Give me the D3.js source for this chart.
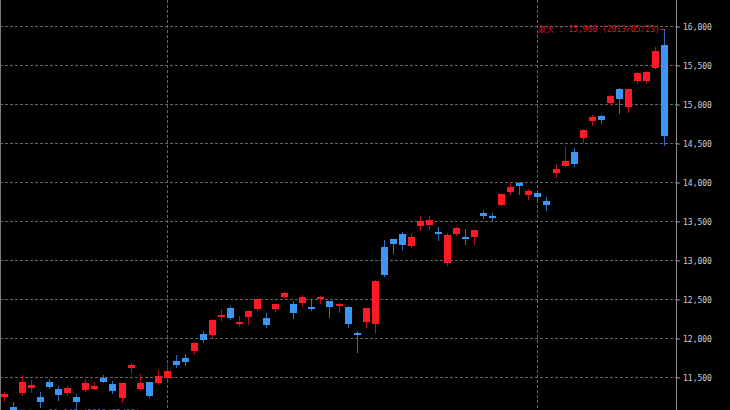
<!DOCTYPE html>
<html>
<head>
<meta charset="utf-8">
<script src="https://cdn.jsdelivr.net/npm/d3@7"></script>
<style>
html, body { margin: 0; padding: 0; background: #000; }
svg { display: block; }
</style>
</head>
<body>
<div id="chart"></div>
<script>
//////// DATA ////////
var dates = [
    "2013/02/04","2013/02/05","2013/02/06","2013/02/07","2013/02/08","2013/02/12","2013/02/13","2013/02/14","2013/02/15",
    "2013/02/18","2013/02/19","2013/02/20","2013/02/21","2013/02/22","2013/02/25","2013/02/26","2013/02/27","2013/02/28",
    "2013/03/01","2013/03/04","2013/03/05","2013/03/06","2013/03/07","2013/03/08","2013/03/11","2013/03/12","2013/03/13",
    "2013/03/14","2013/03/15","2013/03/18","2013/03/19","2013/03/21","2013/03/22","2013/03/25","2013/03/26","2013/03/27",
    "2013/03/28","2013/03/29","2013/04/01","2013/04/02","2013/04/03","2013/04/04","2013/04/05","2013/04/08","2013/04/09",
    "2013/04/10","2013/04/11","2013/04/12","2013/04/15","2013/04/16","2013/04/17","2013/04/18","2013/04/19","2013/04/22",
    "2013/04/23","2013/04/24","2013/04/25","2013/04/26","2013/04/30","2013/05/01","2013/05/02","2013/05/07","2013/05/08",
    "2013/05/09","2013/05/10","2013/05/13","2013/05/14","2013/05/15","2013/05/16","2013/05/17","2013/05/20","2013/05/21",
    "2013/05/22","2013/05/23"
];

var opens = [
    11240, 11110, 11290, 11360, 11250, 11430, 11340, 11300, 11250, 11330, 11350, 11490, 11410, 11230, 11610, 11350, 11430, 11420,
    11490, 11700, 11750, 11830, 12050, 12040, 12270, 12380, 12190, 12270, 12370, 12260, 12370, 12520, 12440, 12450, 12400, 12500,
    12470, 12420, 12400, 12060, 12210, 12180, 13170, 13270, 13330, 13180, 13440, 13450, 13360, 12960, 13330, 13290, 13300, 13600,
    13560, 13710, 13870, 13990, 13830, 13860, 13760, 14110, 14210, 14380, 14560, 14780, 14840, 15010, 15190, 14960, 15300, 15290,
    15460, 15760
];

var highs = [
    11310, 11180, 11520, 11460, 11310, 11480, 11380, 11390, 11280, 11470, 11430, 11520, 11450, 11425, 11680, 11540, 11440, 11590,
    11670, 11780, 11800, 11950, 12090, 12240, 12370, 12410, 12280, 12350, 12505, 12320, 12440, 12590, 12470, 12550, 12490, 12540,
    12480, 12450, 12410, 12090, 12390, 12740, 13260, 13275, 13360, 13340, 13560, 13560, 13420, 13340, 13420, 13400, 13385, 13640,
    13600, 13850, 14000, 14000, 13910, 13870, 13810, 14230, 14450, 14440, 14680, 14860, 14860, 15120, 15200, 15195, 15410, 15420,
    15730, 15960
];

var lows = [
    11190, 11040, 11270, 11310, 11120, 11360, 11200, 11270, 11060, 11320, 11340, 11430, 11290, 11180, 11550, 11330, 11240, 11410,
    11480, 11630, 11660, 11800, 11950, 12010, 12230, 12250, 12160, 12180, 12360, 12140, 12350, 12510, 12260, 12410, 12360, 12450,
    12270, 12330, 12140, 11820, 12140, 12070, 12790, 13090, 13140, 13170, 13380, 13400, 13260, 12940, 13320, 13210, 13210, 13540,
    13510, 13700, 13840, 13840, 13780, 13780, 13640, 14070, 14200, 14200, 14510, 14730, 14760, 15000, 14880, 14900, 15270, 15270,
    15450, 14480
];

var closes = [
    11280, 11060, 11440, 11400, 11180, 11370, 11270, 11360, 11180, 11420, 11380, 11440, 11320, 11420, 11660, 11420, 11260, 11510,
    11580, 11650, 11690, 11940, 11970, 12230, 12290, 12260, 12210, 12350, 12500, 12170, 12430, 12580, 12320, 12520, 12370, 12530,
    12400, 12440, 12180, 12040, 12380, 12730, 12810, 13210, 13190, 13300, 13500, 13510, 13350, 13320, 13410, 13270, 13380, 13560,
    13550, 13840, 13930, 13950, 13890, 13810, 13700, 14170, 14270, 14230, 14670, 14830, 14800, 15100, 15070, 15190, 15400, 15410,
    15680, 14590
];

var yTicks = [11500, 12000, 12500, 13000, 13500, 14000, 14500, 15000, 15500, 16000];
var gridDates = ["2013/03/01", "2013/05/01"];

//////// CANVAS ////////
var outerWidth = 730, outerHeight = 410,
    axisX = 676;

var upFill = "#ff1a26", upLine = "#b3101c",
    downFill = "#3a97f4", downLine = "#2a6cc0";

var svg = d3.select("#chart").append("svg")
    .attr("width", outerWidth)
    .attr("height", outerHeight)
    .style("background", "#000");

//////// SCALES ////////
var xScale = d3.scalePoint()
    .domain(dates)
    .range([4, 664]);

var yScale = d3.scaleLinear()
    .domain([11500, 16000])
    .range([377, 26]);

var fmt = d3.format(",");

var candles = dates.map(function(d, i) {
    return {date: d, o: opens[i], h: highs[i], l: lows[i], c: closes[i]};
});

function cx(d) { return Math.round(xScale(d)); }
function py(v) { return Math.round(yScale(v)); }

//////// GRID ////////
svg.append("g")
    .selectAll("line")
    .data(yTicks)
    .enter().append("line")
        .attr("x1", 0)
        .attr("x2", axisX + 3)
        .attr("y1", function(d) { return py(d) + 0.5; })
        .attr("y2", function(d) { return py(d) + 0.5; })
        .attr("stroke", "#666")
        .attr("stroke-dasharray", "3,2");

svg.append("g")
    .selectAll("line")
    .data(gridDates)
    .enter().append("line")
        .attr("x1", function(d) { return cx(d) + 0.5; })
        .attr("x2", function(d) { return cx(d) + 0.5; })
        .attr("y1", 0)
        .attr("y2", outerHeight)
        .attr("stroke", "#666")
        .attr("stroke-dasharray", "3,2");

// frame lines
svg.append("line")
    .attr("x1", 0.5).attr("x2", 0.5)
    .attr("y1", 0).attr("y2", outerHeight)
    .attr("stroke", "#7a7a7a");

svg.append("line")
    .attr("x1", axisX + 0.5).attr("x2", axisX + 0.5)
    .attr("y1", 0).attr("y2", outerHeight)
    .attr("stroke", "#8a8a8a");

//////// AXIS ////////
var yAxis = svg.append("g")
    .attr("transform", "translate(" + (axisX + 1) + ",0.5)")
    .call(d3.axisRight(yScale).tickValues(yTicks).tickSize(3).tickPadding(3).tickFormat(fmt));

yAxis.select(".domain").remove();
yAxis.selectAll(".tick line").attr("stroke", "#8a8a8a");
yAxis.selectAll(".tick text")
    .attr("fill", "#cfcfcf")
    .attr("font-family", "'DejaVu Sans Mono', monospace")
    .attr("font-size", 8);

//////// CANDLES ////////
var g = svg.append("g");

var candle = g.selectAll("g")
    .data(candles)
    .enter().append("g");

// wicks
candle.append("line")
    .attr("x1", function(d) { return cx(d.date) + 0.5; })
    .attr("x2", function(d) { return cx(d.date) + 0.5; })
    .attr("y1", function(d) { return py(d.h); })
    .attr("y2", function(d) { return py(d.l) + 1; })
    .attr("stroke", function(d) { return d.c >= d.o ? upLine : downLine; });

// bodies (dojis keep a thin bar)
candle.append("rect")
    .attr("x", function(d) { return cx(d.date) - 3; })
    .attr("width", 7)
    .attr("y", function(d) { return py(Math.max(d.o, d.c)); })
    .attr("height", function(d) { return Math.max(2, py(Math.min(d.o, d.c)) - py(Math.max(d.o, d.c))); })
    .attr("fill", function(d) { return d.c >= d.o ? upFill : downFill; });

//////// MAX / MIN LABELS ////////
var iMax = d3.maxIndex(highs),
    iMin = d3.minIndex(lows);

svg.append("text")
    .attr("x", cx(dates[iMax]) + 0.5)
    .attr("y", yScale(highs[iMax]))
    .attr("dy", "0.35em")
    .attr("text-anchor", "end")
    .attr("fill", "#e0121f")
    .attr("font-family", "'DejaVu Sans Mono', monospace")
    .attr("font-size", 8)
    .attr("xml:space", "preserve")
    .text("最大 : " + fmt(highs[iMax]) + " (" + dates[iMax] + ")→");

svg.append("text")
    .attr("x", cx(dates[iMin]) + 0.5)
    .attr("y", yScale(lows[iMin]))
    .attr("dy", "0.35em")
    .attr("text-anchor", "start")
    .attr("fill", "#3070c4")
    .attr("font-family", "'DejaVu Sans Mono', monospace")
    .attr("font-size", 8)
    .attr("xml:space", "preserve")
    .text("←最小 : " + fmt(lows[iMin]) + " (" + dates[iMin] + ")");
</script>
</body>
</html>
